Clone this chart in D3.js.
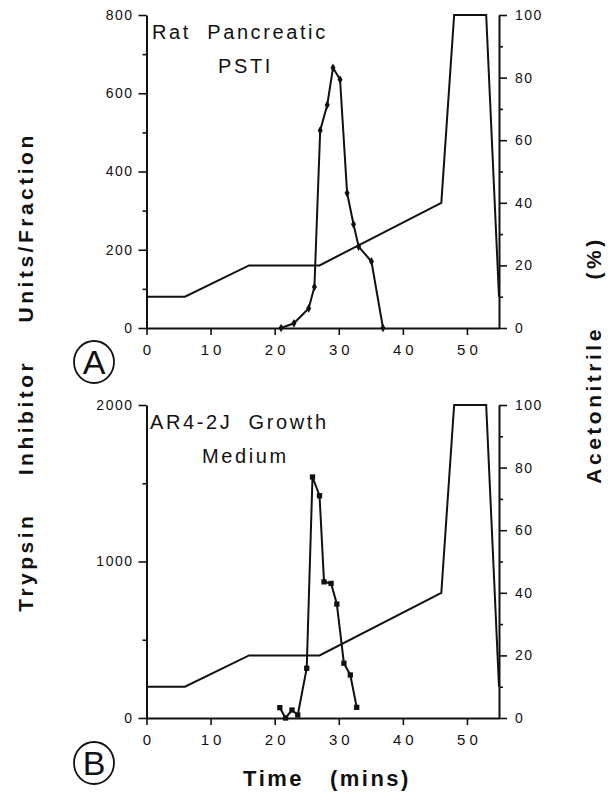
<!DOCTYPE html>
<html>
<head>
<meta charset="utf-8">
<script src="https://cdn.jsdelivr.net/npm/d3@7"></script>
<style>
  body { margin: 0; background: #fff; }
  svg { font-family: "Liberation Sans", Arial, sans-serif; display: block; }
  text { white-space: pre; fill: #111; }
</style>
</head>
<body>
<div id="chart"></div>
<script>
// time axis (mins) and acetonitrile gradient, same in both runs
const timeTicks = [0, 10, 20, 30, 40, 50]
const gradTime = [0, 6, 16, 27, 46, 48, 53, 55]
const gradPct = [10, 10, 20, 20, 40, 100, 100, 10]
const pctTicks = [0, 20, 40, 60, 80, 100]
const pctMinor = [10, 30, 50, 70, 90]

// A: rat pancreatic PSTI
const pstiTime = [21, 23, 25.3, 26.2, 27.1, 28.2, 29.1, 30.2, 31.3, 32.3, 33.1, 35.1, 36.9]
const pstiUnits = [0, 12, 50, 105, 505, 570, 665, 635, 345, 265, 208, 170, 0]
const unitTicksA = [0, 200, 400, 600, 800]
const unitMinorA = [100, 300, 500, 700]

// B: AR4-2J growth medium
const ar4Time = [20.8, 21.7, 22.7, 23.6, 25.0, 25.9, 27.0, 27.7, 28.8, 29.7, 30.8, 31.8, 32.8]
const ar4Units = [66, 0, 51, 19, 318, 1540, 1420, 870, 860, 728, 350, 275, 68]
const unitTicksB = [0, 1000, 2000]
const unitMinorB = [500, 1500]

const width = 616
const height = 794
const ink = "#111"

const svg = d3.select("#chart")
  .append("svg")
    .attr("width", width)
    .attr("height", height)

const xScale = d3.scaleLinear()
  .domain([0, 55])
  .range([146.5, 499])

const styleAxis = (g) => {
  g.select(".domain").attr("stroke", ink).attr("stroke-width", 2)
  g.selectAll(".tick line").attr("stroke", ink).attr("stroke-width", 1.6)
  g.selectAll(".tick text")
    .attr("fill", ink)
    .style("font-size", "14px")
    .style("letter-spacing", "1.5px")
}

const drawPanel = (opts) => {
  const { top, bottom, unitMax, unitTicks, unitMinor, times, units, symbol, symSize, label1, label2 } = opts

  const yUnits = d3.scaleLinear().domain([0, unitMax]).range([bottom, top])
  const yPct = d3.scaleLinear().domain([0, 100]).range([bottom, top])

  // left axis
  svg.append("g")
      .attr("transform", `translate(${xScale(0)},0)`)
      .call(d3.axisLeft(yUnits).tickValues(unitTicks).tickFormat(d3.format("d"))
        .tickSize(8).tickSizeOuter(0).tickPadding(5))
      .call(styleAxis)
  svg.append("g")
      .attr("transform", `translate(${xScale(0)},0)`)
      .call(d3.axisLeft(yUnits).tickValues(unitMinor).tickSize(4).tickFormat(""))
      .call(g => g.select(".domain").remove())
      .call(styleAxis)

  // right axis
  svg.append("g")
      .attr("transform", `translate(${xScale(55)},0)`)
      .call(d3.axisRight(yPct).tickValues(pctTicks).tickSize(8).tickSizeOuter(0).tickPadding(8))
      .call(styleAxis)
  svg.append("g")
      .attr("transform", `translate(${xScale(55)},0)`)
      .call(d3.axisRight(yPct).tickValues(pctMinor).tickSize(4).tickFormat(""))
      .call(g => g.select(".domain").remove())
      .call(styleAxis)

  // bottom axis
  svg.append("g")
      .attr("transform", `translate(0,${bottom})`)
      .call(d3.axisBottom(xScale).tickValues(timeTicks).tickSize(7).tickSizeOuter(0).tickPadding(9))
      .call(styleAxis)
      .call(g => g.selectAll(".tick text").style("font-size", "15px").style("letter-spacing", "4px").attr("dx", "2px"))

  // gradient
  const gradLine = d3.line()
    .x((d, i) => xScale(gradTime[i]))
    .y(d => yPct(d))
  svg.append("path")
    .attr("d", gradLine(gradPct))
    .attr("fill", "none")
    .attr("stroke", ink)
    .attr("stroke-width", 2)

  // inhibitor activity
  const actLine = d3.line()
    .x((d, i) => xScale(times[i]))
    .y(d => yUnits(d))
  svg.append("path")
    .attr("d", actLine(units))
    .attr("fill", "none")
    .attr("stroke", ink)
    .attr("stroke-width", 2)

  svg.append("g")
    .selectAll("path")
    .data(units)
    .join("path")
      .attr("transform", (d, i) => `translate(${xScale(times[i])},${yUnits(d)})`)
      .attr("d", d3.symbol().type(symbol).size(symSize))
      .attr("fill", ink)

  // panel labels
  svg.append("text")
    .attr("x", label1.x).attr("y", top + 24)
    .style("font-size", "20px").style("letter-spacing", "2.6px")
    .text(label1.text)
  svg.append("text")
    .attr("x", label2.x).attr("y", top + 58)
    .style("font-size", "20px").style("letter-spacing", "2.6px")
    .text(label2.text)
}

drawPanel({
  top: 15, bottom: 328, unitMax: 800,
  unitTicks: unitTicksA, unitMinor: unitMinorA,
  times: pstiTime, units: pstiUnits,
  symbol: d3.symbolDiamond, symSize: 22,
  label1: { x: 152, text: "Rat  Pancreatic" },
  label2: { x: 218, text: "PSTI" }
})

drawPanel({
  top: 405, bottom: 718, unitMax: 2000,
  unitTicks: unitTicksB, unitMinor: unitMinorB,
  times: ar4Time, units: ar4Units,
  symbol: d3.symbolSquare, symSize: 28,
  label1: { x: 150, text: "AR4-2J  Growth" },
  label2: { x: 202, text: "Medium" }
})

// circled panel letters
const panelLetters = [{ t: "A", cy: 362 }, { t: "B", cy: 763 }]
const letters = svg.append("g")
letters.selectAll("ellipse")
  .data(panelLetters)
  .join("ellipse")
    .attr("cx", 94).attr("cy", d => d.cy)
    .attr("rx", 20).attr("ry", 21)
    .attr("fill", "none").attr("stroke", ink).attr("stroke-width", 1.8)
letters.selectAll("text")
  .data(panelLetters)
  .join("text")
    .attr("x", 94).attr("y", d => d.cy + 12)
    .attr("text-anchor", "middle")
    .style("font-size", "34px")
    .text(d => d.t)

// axis titles
svg.append("text")
  .attr("transform", "translate(33,372) rotate(-90)")
  .attr("text-anchor", "middle")
  .style("font-size", "21px").style("font-weight", "bold").style("letter-spacing", "3.5px")
  .text("Trypsin    Inhibitor    Units/Fraction")

svg.append("text")
  .attr("transform", "translate(601,360) rotate(-90)")
  .attr("text-anchor", "middle")
  .style("font-size", "21px").style("font-weight", "bold").style("letter-spacing", "3.5px")
  .text("Acetonitrile     (%)")

svg.append("text")
  .attr("x", 327).attr("y", 786)
  .attr("text-anchor", "middle")
  .style("font-size", "22px").style("font-weight", "bold").style("letter-spacing", "2.5px")
  .text("Time   (mins)")
</script>
</body>
</html>
